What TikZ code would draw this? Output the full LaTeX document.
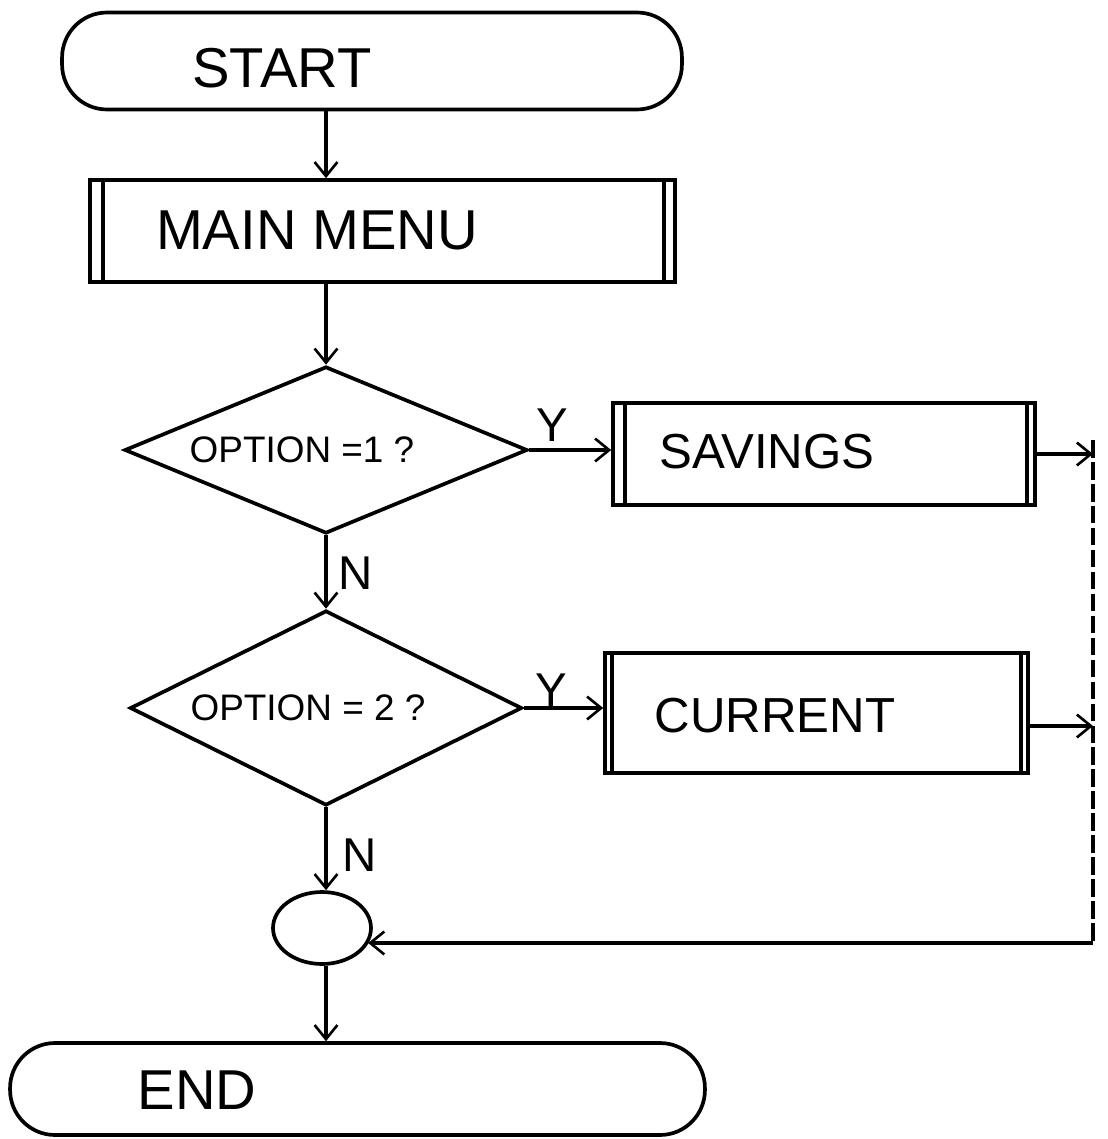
\documentclass[tikz,border=0pt]{standalone}
\usepackage{fontspec}
\setmainfont{Liberation Sans}
\usetikzlibrary{arrows.meta,shapes.geometric,calc}
\begin{document}
\begin{tikzpicture}[x=0.02cm,y=-0.02cm,
  line width=2.1pt,
  arr/.style={-{Straight Barb[length=8pt,width=13pt,line width=1.5pt]}},
  term/.style={draw, rounded corners=0.9cm, inner sep=0pt},
  pproc/.style={draw, inner sep=0pt},
  dec/.style={draw, diamond, inner sep=0pt},
  conn/.style={draw, ellipse, inner sep=0pt},
  big/.style={font=\fontsize{32}{36}\selectfont},
  mid/.style={font=\fontsize{28}{32}\selectfont},
  small/.style={font=\fontsize{21}{25}\selectfont},
  yn/.style={font=\fontsize{27}{30}\selectfont},
  ret/.style={dash pattern=on 10pt off 2.5pt},
]
\fill[white] (0,0) rectangle (1108,1139);
\useasboundingbox (0,0) rectangle (1108,1139);

% shapes
\node[term, minimum width=12.4cm, minimum height=1.94cm] (start) at (372,61) {};
\node[big] (starttxt) at (282,68) {START};

\node[pproc, minimum width=11.7cm, minimum height=2.04cm] (mm) at (382.5,231) {};
\draw ([xshift=0.3cm]mm.north west) -- ([xshift=0.3cm]mm.south west);
\draw ([xshift=-0.26cm]mm.north east) -- ([xshift=-0.26cm]mm.south east);
\node[big] (mmtxt) at (317,230) {MAIN MENU};

\node[dec, minimum width=8.06cm, minimum height=3.34cm] (d1) at (326,450) {};
\node[small] (d1txt) at (302,450) {OPTION =1 ?};

\node[pproc, minimum width=8.44cm, minimum height=2.04cm] (sav) at (824,454) {};
\draw ([xshift=0.28cm]sav.north west) -- ([xshift=0.28cm]sav.south west);
\draw ([xshift=-0.2cm]sav.north east) -- ([xshift=-0.2cm]sav.south east);
\node[mid] (savtxt) at (767,452) {SAVINGS};

\node[dec, minimum width=7.84cm, minimum height=3.9cm] (d2) at (326,708) {};
\node[small] (d2txt) at (308,708) {OPTION = 2 ?};

\node[pproc, minimum width=8.46cm, minimum height=2.4cm] (cur) at (816.5,713) {};
\draw ([xshift=0.18cm]cur.north west) -- ([xshift=0.18cm]cur.south west);
\draw ([xshift=-0.18cm]cur.north east) -- ([xshift=-0.18cm]cur.south east);
\node[mid] (curtxt) at (775,716) {CURRENT};

\node[conn, minimum width=1.96cm, minimum height=1.44cm] (cn) at (322,928) {};

\node[term, minimum width=13.9cm, minimum height=1.84cm] (end) at (357.5,1089) {};
\node[big] (endtxt) at (197,1090) {END};

% axis coordinate
\coordinate (ax) at (326,0);
\coordinate (rtop) at (1093,440);
\coordinate (rbot) at (1093,943);

% connectors
\draw[arr] (start.south -| ax) -- (mm.north -| ax);
\draw[arr] (mm.south -| ax) -- (d1.north);
\draw[arr] (d1.south) -- (d2.north);
\draw[arr] (d2.south) -- (cn.north -| ax);
\draw[arr] (cn.south -| ax) -- (end.north -| ax);

\draw[arr] (d1.east) -- (d1.east -| sav.west);
\draw[arr] (d2.east) -- (d2.east -| cur.west);

\draw[arr] (sav.east) -- (sav.east -| rtop);
\draw[arr] ([yshift=-0.26cm]cur.east) -- ([yshift=-0.26cm]cur.east -| rtop);

\draw[ret] (rtop) -- (rbot);
\draw[arr] (rbot) -- (cn.-19 |- rbot);

% labels
\node[yn] (y1) at (552,425) {Y};
\node[yn] (y2) at (551,690) {Y};
\node[yn] (n1) at (356,573) {N};
\node[yn] (n2) at (360,855) {N};
\end{tikzpicture}
\end{document}
